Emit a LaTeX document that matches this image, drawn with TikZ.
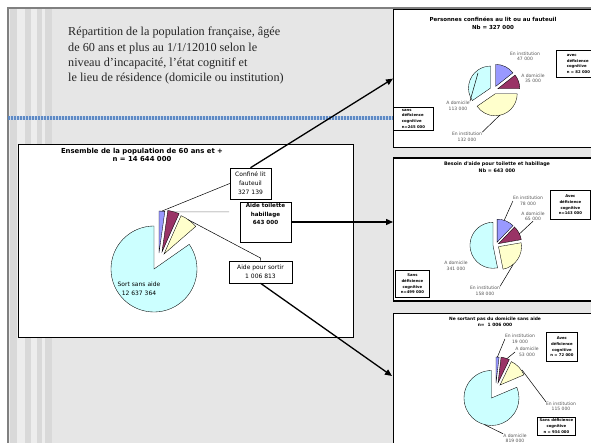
\documentclass[tikz,border=0pt]{standalone}
\usepackage{fontspec}
\setmainfont{Liberation Serif}
\newfontfamily\vf{DejaVu Sans}
\usetikzlibrary{arrows.meta,calc}
\definecolor{pblue}{HTML}{9999FF}
\definecolor{pmaroon}{HTML}{993366}
\definecolor{pyellow}{HTML}{FFFFCC}
\definecolor{pcyan}{HTML}{CCFFFF}
\definecolor{bgchk}{HTML}{E6E6E6}
\definecolor{bandblue}{HTML}{5F8AC4}
\definecolor{bandlight}{HTML}{C5D5EA}
\definecolor{stripeA}{HTML}{D9D9D9}
\definecolor{stripeB}{HTML}{EDEDED}
\definecolor{lblgray}{HTML}{555555}
\definecolor{bordergray}{HTML}{808080}
\newcommand\pslice[6]{\filldraw[fill=#6,draw=black,line width=0.35pt] (#1,#2) -- ++({-(#4)}:#3) arc[start angle={-(#4)},end angle={-(#5)},radius=#3] -- cycle;}
\begin{document}
\begin{tikzpicture}[x=1pt,y=-1pt,
 lbl/.style={font={\vf\fontsize{6}{9}\selectfont}, align=center, inner sep=1pt},
 plbl/.style={font={\vf\fontsize{4.5}{5.6}\selectfont}, text=lblgray, align=center, inner sep=0pt},
 dbox/.style={draw, line width=0.8pt, fill=white, font={\vf\bfseries\fontsize{3.8}{5.8}\selectfont}, inner sep=1.5pt},
 panel/.style={draw, line width=1.2pt, fill=white, anchor=north west, inner sep=0pt},
 ptitle/.style={align=center, inner sep=0pt},
 bigarrow/.style={line width=1.3pt, -{Triangle[length=7pt,width=6pt]}},
 leader/.style={line width=0.5pt}]
\useasboundingbox (0,0) rectangle (591,443);
\clip (0,0) rectangle (591,443);
% background
\fill[white] (0,0) rectangle (591,443);
\fill[bgchk] (8,8) rectangle (591,443);
\fill[stripeB] (9,8) rectangle (52,443);
\foreach \a/\b in {10/17, 25/31, 37/42, 45/52} \fill[stripeA] (\a,8) rectangle (\b,443);
\draw[bordergray, line width=1.2pt] (8,443) -- (8,8) -- (591,8);
% blue band
\fill[bandlight] (8,116.5) rectangle (393,120);
\draw[bandblue, line width=3.5pt, dash pattern=on 1.5pt off 1.5pt] (8,118.25) -- (393,118.25);
% title
\node[anchor=north west, align=left, inner sep=0pt, font=\fontsize{12.2}{15.4}\selectfont, text=black!85] (title) at (68,27)
 {Répartition de la population française, âgée\\de 60 ans et plus au 1/1/12010 selon le\\niveau d’incapacité, l’état cognitif et\\le lieu de résidence (domicile ou institution)};
% main box
\node[draw, line width=1.1pt, fill=white, anchor=north west, minimum width=335pt, minimum height=193pt, inner sep=0pt] (mainbox) at (18,144) {};
\node[ptitle, font={\vf\bfseries\fontsize{6.9}{8.5}\selectfont}] (maintitle) at (142,155) {Ensemble de la population de 60 ans et +\\n = 14 644 000};
% main pie
\pslice{154}{269}{43}{35}{-270}{pcyan}
\pslice{159}{253}{42}{90}{82}{pblue}
\pslice{162}{252}{42}{82}{66}{pmaroon}
\pslice{164}{254}{42}{66}{41}{pyellow}
\coordinate (mblue) at (161.9,211.1);
\coordinate (mmaroon) at (173.6,211.8);
\coordinate (myellow) at (188,219.6);
\coordinate (mtl) at (229,212);
\coordinate (mbend) at (260.5,258);
\node[lbl] (sortlbl) at (139,288.5) {Sort sans aide\\12 637 364};
\node[lbl, draw, fill=white, line width=0.5pt, minimum width=41pt, minimum height=31pt] (confine) at (250.5,183.5) {Confiné lit\\fauteuil\\327 139};
\node[draw, fill=white, line width=0.5pt, minimum width=51pt, minimum height=40pt, inner sep=0pt] (toilette) at (265.5,222) {};
\node[lbl, anchor=north, font={\vf\bfseries\fontsize{5.6}{8.4}\selectfont}] (toilettetxt) at ([yshift=-0.5pt]toilette.north) {Aide toilette\\habillage\\643 000};
\node[lbl, draw, fill=white, line width=0.5pt, minimum width=63pt, minimum height=22pt] (sortir) at (260.5,272) {Aide pour sortir\\1 006 813};
\draw[leader] (confine.west) -- (mblue);
\draw[leader, gray] (mtl) -- (mmaroon);
\draw[leader] (myellow) -- (mbend) -- (sortir.north);
% panels
\node[panel, minimum width=220pt, minimum height=138pt] (panel1) at (393,9) {};
\node[panel, minimum width=220pt, minimum height=143pt] (panel2) at (393,157.5) {};
\node[panel, minimum width=220pt, minimum height=150pt] (panel3) at (393,313) {};
% panel 1
\node[ptitle, font={\vf\bfseries\fontsize{5.5}{8}\selectfont}] (t1) at (493,23) {Personnes confinées au lit ou au fauteuil\\Nb = 327 000};
\pslice{495.7}{86.4}{22}{90}{38.3}{pblue}
\pslice{497.8}{88.7}{22}{38.3}{0}{pmaroon}
\pslice{495.2}{93.8}{22}{0}{-145.5}{pyellow}
\pslice{490.5}{88.1}{22}{-145.5}{-270}{pcyan}
\node[plbl] (l1a) at (525,56.5) {En institution\\47 000};
\node[plbl] (l1b) at (533,78.5) {A domicile\\35 000};
\node[plbl] (l1c) at (458,106) {A domicile\\113 000};
\node[plbl] (l1d) at (467,137) {En institution\\132 000};
\coordinate (c1cyan) at (478,73);
\coordinate (c1yel) at (500,115);
\draw[leader] (l1c.north east) -- (c1cyan);
\draw[leader] (l1d.north east) -- (c1yel);
\node[dbox, anchor=north west, minimum width=44pt, minimum height=27pt, align=left] (b1a) at (556,50) {avec\\déficience\\cognitive\\n = 82 000};
\node[dbox, anchor=north west, minimum width=40pt, minimum height=20pt, align=left] (b1b) at (393,107) {sans\\déficience\\cognitive\\n=245 000};
% panel 2
\node[ptitle, font={\vf\bfseries\fontsize{4.8}{7.5}\selectfont}] (t2) at (497,167) {Besoin d'aide pour toilette et habillage\\Nb = 643 000};
\pslice{497.1}{242.2}{23}{90}{46.3}{pblue}
\pslice{498.6}{243.6}{23}{46.3}{9.9}{pmaroon}
\pslice{498.5}{246.7}{23}{9.9}{-78.6}{pyellow}
\pslice{493.0}{245.3}{23}{-78.6}{-270}{pcyan}
\node[plbl] (l2a) at (528,201) {En institution\\78 000};
\node[plbl] (l2b) at (533,216.5) {A domicile\\65 000};
\node[plbl] (l2c) at (456,266) {A domicile\\341 000};
\node[plbl] (l2d) at (485,291) {En institution\\158 000};
\coordinate (c2blue) at (504.2,220.3);
\coordinate (c2mar) at (519.4,233.9);
\coordinate (c2yel) at (513.3,264.3);
\draw[leader] (l2a.west) -- (c2blue);
\draw[leader] (l2b.south) -- (c2mar);
\draw[leader] (l2d.north east) -- (c2yel);
\node[dbox, anchor=north west, minimum width=40pt, minimum height=29pt, align=center] (b2a) at (550,190) {Avec\\déficience\\cognitive\\n=143 000};
\node[dbox, anchor=north west, minimum width=34pt, minimum height=27pt, align=center] (b2b) at (395,270) {Sans\\déficience\\cognitive\\n=499 000};
% panel 3
\node[ptitle, font={\vf\bfseries\fontsize{4.4}{6.5}\selectfont}] (t3) at (495,322) {Ne sortant pas du domicile sans aide\\n=\ \ 1 006 000};
\pslice{491.5}{398}{27.5}{23}{-270}{pcyan}
\pslice{496}{383}{26}{90}{83.2}{pblue}
\pslice{498}{383}{26}{83.2}{64.2}{pmaroon}
\pslice{500}{385}{26}{64.2}{23}{pyellow}
\node[plbl] (l3a) at (520,339) {En institution\\19 000};
\node[plbl] (l3b) at (527,352) {A domicile\\53 000};
\node[plbl] (l3c) at (561,406.5) {En institution\\115 000};
\node[plbl] (l3d) at (515,438.5) {A domicile\\819 000};
\coordinate (c3blue) at (497.4,357);
\coordinate (c3mar) at (506.9,358.6);
\coordinate (c3yel) at (522,370);
\coordinate (c3cyan) at (484.4,424.6);
\draw[leader] (l3a.west) -- (c3blue);
\draw[leader] (l3b.west) -- (c3mar);
\draw[leader] (c3yel) -- (l3c.north west);
\draw[leader] (c3cyan) -- (l3d.north west);
\node[dbox, anchor=north west, minimum width=31pt, minimum height=29pt, align=center] (b3a) at (546,332) {Avec\\déficience\\cognitive\\n = 72 000};
\node[dbox, anchor=north west, minimum width=38pt, minimum height=16pt, align=center] (b3b) at (537,417) {Sans déficience\\cognitive\\n = 934 000};
% big arrows
\coordinate (p3in) at (392,376);
\draw[bigarrow] (confine.north) -- (panel1.west);
\draw[bigarrow] (toilette.east) -- (panel2.west |- toilette.east);
\draw[bigarrow] (sortir.south) -- (p3in);
\end{tikzpicture}
\end{document}
